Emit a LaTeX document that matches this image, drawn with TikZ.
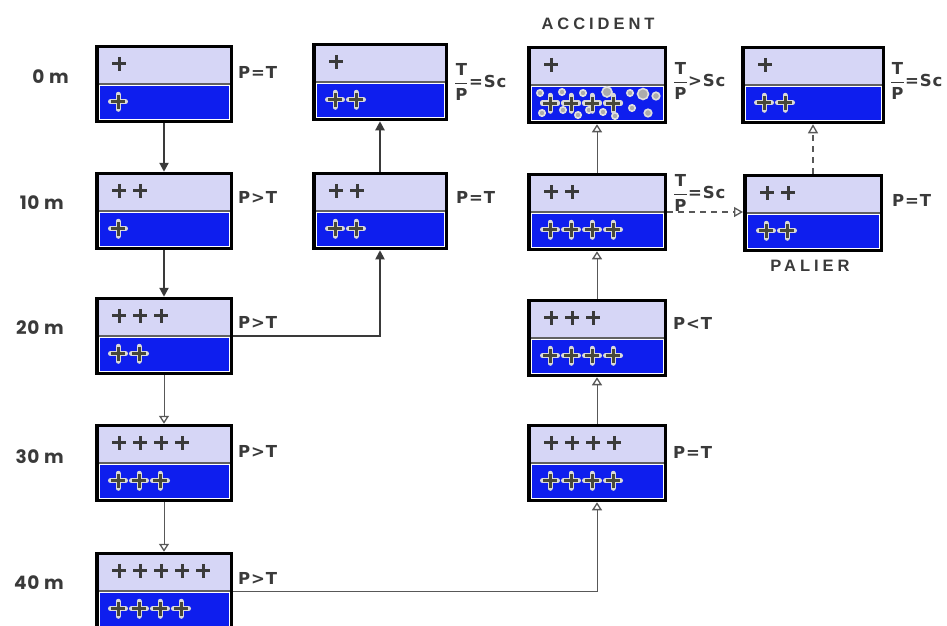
\documentclass[tikz,border=0pt]{standalone}
\usepackage{amsmath}
\usepackage{fontspec}
\setmainfont{Poppins}
\newfontfamily\labelfont[LetterSpace=5]{DejaVu Sans}
\newfontfamily\capfont[LetterSpace=24]{Liberation Sans}
\newfontfamily\depthfont[LetterSpace=4]{Poppins}
\usetikzlibrary{calc,arrows.meta}

\definecolor{lav}{RGB}{214,214,246}
\definecolor{sea}{RGB}{14,30,238}
\definecolor{ink}{RGB}{58,58,58}
\definecolor{crossink}{RGB}{72,72,58}

\tikzset{
  x=1pt, y=-1pt,
  tank/.style={draw=black, line width=3.5pt, fill=white, minimum height=75pt,
    inner sep=0pt, outer sep=1.75pt},
  divider/.style={draw=ink!80, line width=1.5pt},
  pics/topplus/.style={code={
    \draw[ink, line width=3pt] (-7,0) -- (7,0) (0,-7) -- (0,7);}},
  pics/seaplus/.style={code={
    \draw[white!70!gray, line width=5pt, line cap=round] (-7.5,0) -- (7.5,0) (0,-7.5) -- (0,7.5);
    \draw[crossink, line width=3pt] (-6.8,0) -- (6.8,0) (0,-6.8) -- (0,6.8);}},
  bubble/.style={draw=white!75!gray, line width=1.6pt, fill=gray!65},
  lbl/.style={font=\labelfont\bfseries\fontsize{16.5}{18}\selectfont, text=ink,
    inner sep=1pt, anchor=west},
  depth/.style={font=\depthfont\bfseries\fontsize{18.5}{20}\selectfont, text=ink,
    inner sep=1pt, anchor=east},
  caption/.style={font=\capfont\bfseries\fontsize{16.5}{18}\selectfont,
    text=ink, inner sep=1pt},
  heavy/.style={draw=ink, line width=2.2pt, -{Triangle[length=9pt,width=9pt]}},
  light/.style={draw=ink!85, line width=1pt,
    -{Triangle[open,length=8pt,width=10pt,line width=1.3pt]}},
  dashlink/.style={draw=ink!85, line width=1.4pt, dash pattern=on 6pt off 5pt,
    -{Triangle[open,length=9pt,width=10pt,line width=1.3pt]}},
}

% tank: name, x, y, width, crosses in the gas layer, crosses in the liquid layer
\newcommand\tank[6]{%
  \node[tank, minimum width=#4] (#1) at (#2,#3) {};
  \fill[lav] ($(#1.north west)+(3.5,3.5)$) rectangle ($(#1.north east)+(-3.5,38)$);
  \draw[divider] ($(#1.north west)+(3.5,39)$) -- ($(#1.north east)+(-3.5,39)$);
  \fill[sea] ($(#1.north west)+(4.5,41.5)$) rectangle ($(#1.south east)+(-4.5,-4.5)$);
  \foreach \k in {1,...,#5} \pic at ($(#1.north west)+(3+21*\k,19)$) {topplus};
  \foreach \k in {1,...,#6} \pic at ($(#1.north west)+(2+21*\k,57)$) {seaplus};
}

% T over P, as printed beside the tanks
\newcommand\tpfrac{$\genfrac{}{}{1.4pt}{0}{\mbox{T}}{\mbox{P}}$\hspace{0.5pt}}

\begin{document}
\begin{tikzpicture}
\useasboundingbox (0,0) rectangle (947,625);

% left column of tanks (descent)
\tank{A0}{164}{84}{134.5}{1}{1}
\tank{A10}{164}{211}{134.5}{2}{1}
\tank{A20}{164}{336}{134.5}{3}{2}
\tank{A30}{164}{463}{134.5}{4}{3}
\tank{A40}{164}{591}{134.5}{5}{4}

% second column
\tank{B0}{380}{82}{132.5}{1}{2}
\tank{B10}{380}{211}{132.5}{2}{2}

% third column (accident path)
\tank{C0}{597}{85}{136.5}{1}{4}
\tank{C10}{597}{212}{136.5}{2}{4}
\tank{C20}{597}{338}{136.5}{3}{4}
\tank{C30}{597}{463}{136.5}{4}{4}

% fourth column (stop path)
\tank{D0}{813}{85}{140.5}{1}{2}
\tank{D10}{813}{213}{136.5}{2}{2}

% gas bubbles in the accident tank, crosses redrawn over them
\foreach \bx/\by/\br in {540/93/3.2, 562/92/3.2, 583/93/3.2, 607/92/5, 630/93/3.2,
    643/94/5.5, 656/96/3.8, 542/113/3.2, 563/110/3.2, 578/115/3.2, 589/110/3.2,
    603/112/3.2, 615/116/3.2, 632/108/3.2, 648/113/3.8}
  \draw[bubble] (\bx,\by) circle (\br);
\foreach \k in {1,...,4} \pic at ($(C0.north west)+(2+21*\k,58)$) {seaplus};

% depth scale
\node[depth] (d0)  at (70,77)  {0 m};
\node[depth] (d10) at (65,203) {10 m};
\node[depth] (d20) at (65,328) {20 m};
\node[depth] (d30) at (65,457) {30 m};
\node[depth] (d40) at (65,583) {40 m};

% pressure relations
\node[lbl] (pA0)  at (237,72)  {P=T};
\node[lbl] (pA10) at (237,197) {P>T};
\node[lbl] (pA20) at (237,322) {P>T};
\node[lbl] (pA30) at (237,451) {P>T};
\node[lbl] (pA40) at (237,578) {P>T};
\node[lbl] (pB0)  at (453,82)  {\tpfrac=Sc};
\node[lbl] (pB10) at (455,197) {P=T};
\node[lbl] (pC0)  at (672,81)  {\tpfrac>Sc};
\node[lbl] (pC10) at (672,193) {\tpfrac=Sc};
\node[lbl] (pC20) at (672,323) {P<T};
\node[lbl] (pC30) at (672,452) {P=T};
\node[lbl] (pD0)  at (889,81)  {\tpfrac=Sc};
\node[lbl] (pD10) at (891,200) {P=T};

\node[caption] (acc) at (598,24)  {ACCIDENT};
\node[caption] (pal) at (810,266) {PALIER};

% transitions
\draw[heavy] (A0) -- (A10);
\draw[heavy] (A10) -- (A20);
\draw[light] (A20) -- (A30);
\draw[light] (A30) -- (A40);
\draw[heavy, line width=1.8pt] (A20.east) -| (B10);
\draw[heavy] (B10) -- (B0);
\draw[light] (A40.east) -| (C30);
\draw[light] (C30) -- (C20);
\draw[light] (C20) -- (C10);
\draw[light] (C10) -- (C0);
\draw[dashlink] (C10.east) -- (C10.east -| D10.west);
\draw[dashlink] (D10) -- (D0);
\end{tikzpicture}
\end{document}
